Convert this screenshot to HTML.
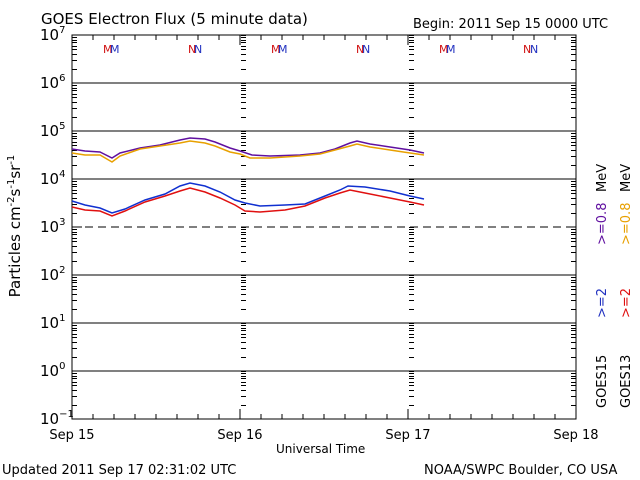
<!DOCTYPE html><html><head><style>body{margin:0;background:#fff}svg{display:block}text{font-family:"DejaVu Sans","Liberation Sans",sans-serif}</style></head><body>
<svg id="s" width="640" height="480" xmlns="http://www.w3.org/2000/svg">
<rect width="640" height="480" fill="#fff"/>
<text x="41" y="24" font-size="15">GOES Electron Flux (5 minute data)</text>
<text x="413" y="28" font-size="13">Begin: 2011 Sep 15 0000 UTC</text>
<text x="2" y="474" font-size="13">Updated 2011 Sep 17 02:31:02 UTC</text>
<text x="424" y="474" font-size="13">NOAA/SWPC Boulder, CO USA</text>
<text x="276" y="453" font-size="12">Universal Time</text>
<g font-size="13" text-anchor="middle"><text x="72" y="439">Sep 15</text><text x="240" y="439">Sep 16</text><text x="408" y="439">Sep 17</text><text x="576" y="439">Sep 18</text></g>
<text transform="translate(20,226) rotate(-90)" font-size="15" text-anchor="middle">Particles cm<tspan dy="-6" font-size="10">-2</tspan><tspan dy="6">s</tspan><tspan dy="-6" font-size="10">-1</tspan><tspan dy="6">sr</tspan><tspan dy="-6" font-size="10">-1</tspan></text>
<g font-size="13" transform="rotate(-90)">
<text x="-408" y="606">GOES15</text><text x="-408" y="630">GOES13</text>
<text x="-318" y="606" fill="#2030c0">&gt;=2</text><text x="-318" y="630" fill="#e01010">&gt;=2</text>
<text x="-245" y="606" fill="#6010a0">&gt;=0.8</text><text x="-245" y="630" fill="#e8a000">&gt;=0.8</text>
<text x="-192" y="606">MeV</text><text x="-192" y="630">MeV</text>
</g>
<g id="g" stroke="#000" stroke-width="1" fill="none"></g>
<g font-size="11" fill="#d01010"><text x="103" y="53">M</text><text x="188" y="53">N</text><text x="271" y="53">M</text><text x="356" y="53">N</text><text x="439" y="53">M</text><text x="523" y="53">N</text></g>
<g font-size="11" fill="#2030c0"><text x="110" y="53">M</text><text x="194" y="53">N</text><text x="278" y="53">M</text><text x="362" y="53">N</text><text x="446" y="53">M</text><text x="530" y="53">N</text></g>
<g fill="none" stroke-width="1.5">
<polyline stroke="#6010a0" points="72,149 85,151 100,152 112,158 120,153 140,148 160,145 180,140 190,138 205,139 215,142 230,148 240,151 252,155 270,156 300,155 320,153 335,149 350,143 357,141 370,144 390,147 410,150 424,153"/>
<polyline stroke="#e8a000" points="72,153 85,155 100,155 112,162 120,156 140,149 160,146 180,143 190,141 205,143 215,146 230,152 240,154 250,158 270,158 300,156 320,154 335,150 350,146 357,144 370,147 390,150 410,153 424,155"/>
<polyline stroke="#1030d0" points="72,201 85,205 100,208 112,213 125,209 145,200 165,194 180,186 190,183 205,186 220,192 235,200 245,203 260,206 285,205 305,204 325,196 340,190 348,186 365,187 390,191 410,196 424,199"/>
<polyline stroke="#e01010" points="72,207 85,210 100,211 112,216 125,211 145,202 165,196 180,191 190,188 205,192 220,198 235,205 245,211 260,212 285,210 305,206 325,198 340,193 350,190 365,193 390,198 410,202 424,205"/>
</g>
</svg>
<script>
var g=document.getElementById('g'),s='';
function L(a,b,c,d,e){s+='<line x1="'+a+'" y1="'+b+'" x2="'+c+'" y2="'+d+'"'+(e||'')+'/>';}
var X0=72,X1=576,T=35,B=419,D=48;
s+='<rect x="72" y="35" width="504" height="384"/>';
for(var k=1;k<8;k++){var y=T+k*D;if(k==4)L(X0,y,X1,y,' stroke-dasharray="8,5"');else L(X0,y,X1,y);}
for(var k=0;k<8;k++){for(var m=2;m<10;m++){var y=Math.round(T+k*D+D*(1-Math.log10(m)))+0.5;L(X0,y,X0+5,y);L(X1-5,y,X1,y);L(241,y,246,y);L(409,y,414,y);}
 var y0=T+k*D+0.5;L(241,y0,246,y0);L(409,y0,414,y0);}
for(var k=0;k<9;k++){var y=T+k*D;L(X0,y,X0+10,y);L(X1-10,y,X1,y);}
for(var h=0;h<=72;h+=3){var x=X0+h*7;var l=h%24==0?10:5;L(x,B,x,B-l);L(x,T,x,T+l);}
g.innerHTML=s;
var t='';for(var k=0;k<9;k++){var y=T+k*D+5;var e=7-k;t+='<text x="40" y="'+y+'" font-size="15">10<tspan dy="-7" font-size="10">'+(e<0?'−1':e)+'</tspan></text>';}
document.getElementById('s').insertAdjacentHTML('beforeend',t);
</script>
</body></html>
